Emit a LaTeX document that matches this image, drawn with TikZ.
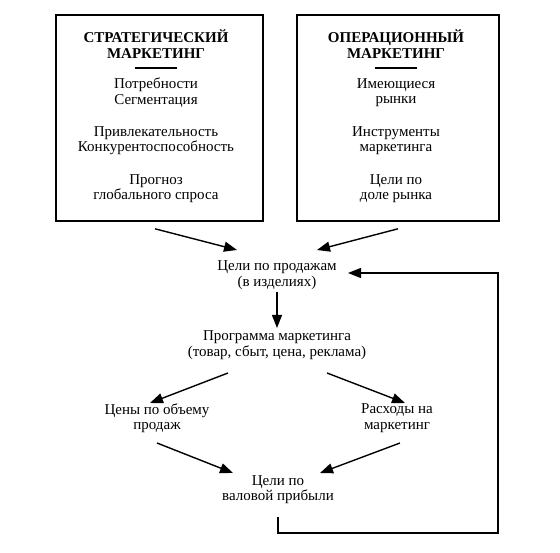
\documentclass[tikz,border=0pt]{standalone}
\usepackage{fontspec}
\setmainfont{Liberation Serif}
\usetikzlibrary{arrows.meta,calc}
\begin{document}
\begin{tikzpicture}[x=1pt,y=1pt,
  txt/.style={align=center,inner sep=0pt,font=\fontsize{15}{15.5}\selectfont},
  ttl/.style={align=center,inner sep=0pt,font=\fontsize{15}{16}\selectfont\bfseries},
  boxst/.style={draw,line width=1.6pt,inner sep=0pt},
  arr/.style={-{Triangle[length=13pt,width=10pt]},line width=1.4pt}]
\useasboundingbox (0,0) rectangle (560,552);
% boxes
\node[boxst,minimum width=207,minimum height=206] (lbox) at (159.5,434) {};
\node[boxst,minimum width=202,minimum height=206] (rbox) at (398,434) {};
% left box texts
\node[ttl] (lt) at (156,508) {СТРАТЕГИЧЕСКИЙ\\МАРКЕТИНГ};
\node[txt] (l1) at (156,459.5) {Потребности\\Сегментация};
\node[txt] (l2) at (156,411.5) {Привлекательность\\Конкурентоспособность};
\node[txt] (l3) at (156,363.5) {Прогноз\\глобального спроса};
\draw[line width=1.3pt] ($(lt.center)+(-21,-24)$) coordinate (lra) -- ($(lt.center)+(21,-24)$) coordinate (lrb);
% right box texts
\node[ttl] (rt) at (396,508) {ОПЕРАЦИОННЫЙ\\МАРКЕТИНГ};
\node[txt] (r1) at (396,459.5) {Имеющиеся\\рынки};
\node[txt] (r2) at (396,411.5) {Инструменты\\маркетинга};
\node[txt] (r3) at (396,363.5) {Цели по\\доле рынка};
\draw[line width=1.3pt] ($(rt.center)+(-21,-24)$) coordinate (rra) -- ($(rt.center)+(21,-24)$) coordinate (rrb);
% flow nodes
\node[txt] (g1) at (277,277) {Цели по продажам\\(в изделиях)};
\node[txt] (prog) at (277,207) {Программа маркетинга\\(товар, сбыт, цена, реклама)};
\node[txt] (price) at (157,134) {Цены по объему\\продаж};
\node[txt] (cost) at (397,134) {Расходы на\\маркетинг};
\node[txt] (profit) at (278,62.5) {Цели по\\валовой прибыли};
% arrows
\draw[arr] ($(lbox.south)+(-4.5,-7)$) -- ($(g1.center)+(-40,25)$);
\draw[arr] ($(rbox.south)+(0,-7)$) -- ($(g1.center)+(40,25)$);
\draw[arr] ($(g1.center)+(0,-17)$) -- ($(prog.center)+(0,17)$);
\draw[arr] ($(prog.center)+(-49,-28)$) -- ($(price.center)+(-7,15)$);
\draw[arr] ($(prog.center)+(50,-28)$) -- ($(cost.center)+(8,15)$);
\draw[arr] ($(price.center)+(0,-25)$) -- ($(profit.center)+(-45,16.5)$);
\draw[arr] ($(cost.center)+(3,-25)$) -- ($(profit.center)+(42,16.5)$);
\draw[arr] ($(profit.center)+(0,-27.5)$) |- (498,19) |- ($(g1.center)+(71,2)$);
\end{tikzpicture}
\end{document}
